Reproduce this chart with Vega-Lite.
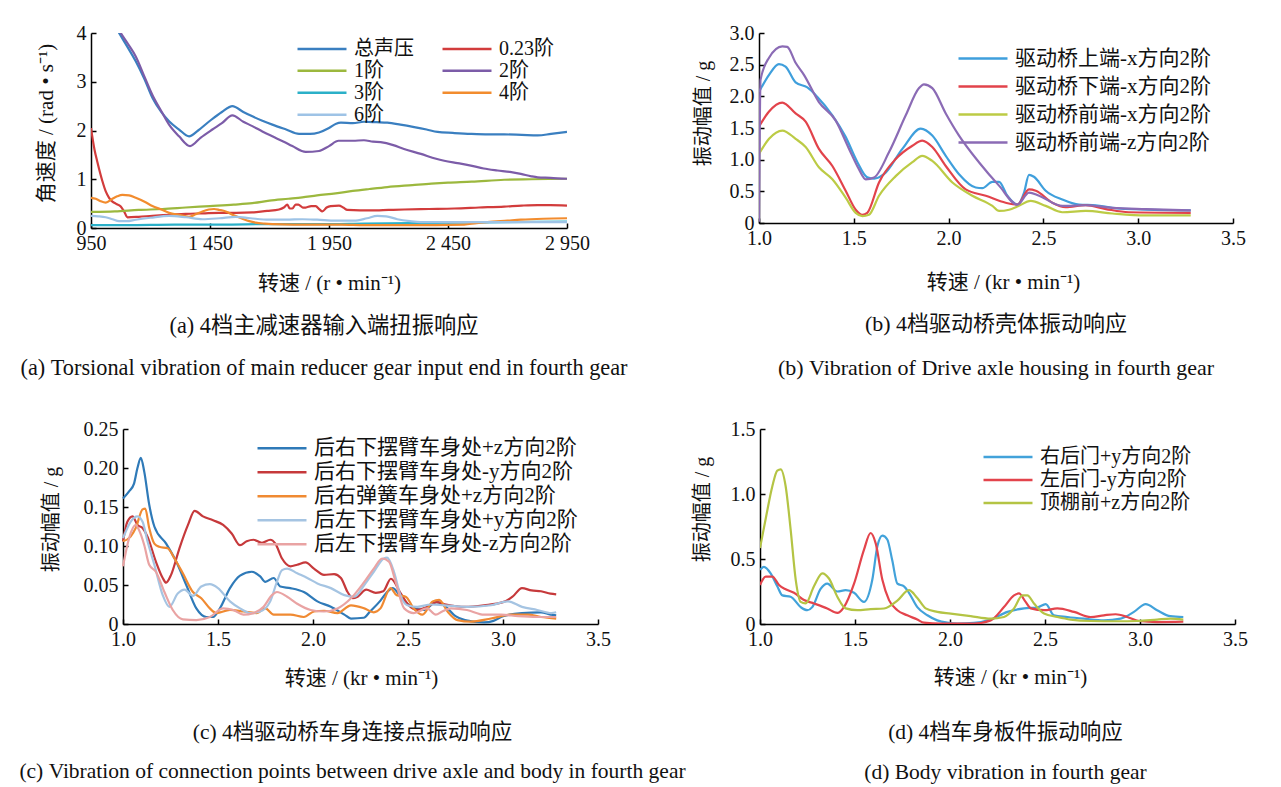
{
"$schema": "https://vega.github.io/schema/vega-lite/v6.json",
"background": "white",
"padding": {"left": 16, "top": 23, "right": 5, "bottom": 5},
"config": {
  "view": {"stroke": null},
  "font": "Liberation Serif, Noto Sans CJK SC",
  "axis": {"grid": false, "domainColor": "#000", "domainWidth": 1.5, "tickColor": "#000", "tickWidth": 1.5, "tickSize": -5, "labelFont": "Liberation Serif", "labelFontSize": 20, "labelColor": "#111", "labelPadding": 10, "titleFont": "Liberation Serif, Noto Sans CJK SC", "titleFontSize": 20, "titleFontWeight": "normal", "titleColor": "#111", "labelFlush": false, "labelOverlap": false, "titleBaseline": "middle", "titleAlign": "center"},
  "axisX": {"titleFontSize": 21},
  "legend": {"orient": "none", "labelFont": "Liberation Serif, Noto Sans CJK SC", "labelFontSize": 20, "labelColor": "#111", "symbolType": "stroke", "symbolSize": 2400, "symbolStrokeWidth": 2.5, "labelOffset": 6, "padding": 0, "rowPadding": 0, "columnPadding": 27, "labelLimit": 400},
  "title": {"orient": "bottom", "anchor": "middle", "frame": "group", "fontSize": 22, "fontWeight": "normal", "font": "Liberation Serif, Noto Sans CJK SC", "color": "#111", "baseline": "top"}
},
"datasets": {
"A": [
{"s":"总声压","x":1000,"y":4.6},{"s":"总声压","x":1068,"y":4.0},{"s":"总声压","x":1105,"y":3.7},{"s":"总声压","x":1138,"y":3.42},{"s":"总声压","x":1175,"y":3.05},{"s":"总声压","x":1208,"y":2.67},{"s":"总声压","x":1245,"y":2.38},{"s":"总声压","x":1278,"y":2.19},{"s":"总声压","x":1320,"y":2.02},{"s":"总声压","x":1362,"y":1.88},{"s":"总声压","x":1400,"y":2.0},{"s":"总声压","x":1450,"y":2.2},{"s":"总声压","x":1500,"y":2.38},{"s":"总声压","x":1544,"y":2.5},{"s":"总声压","x":1590,"y":2.38},{"s":"总声压","x":1628,"y":2.29},{"s":"总声压","x":1670,"y":2.2},{"s":"总声压","x":1712,"y":2.12},{"s":"总声压","x":1770,"y":2.02},{"s":"总声压","x":1824,"y":1.93},{"s":"总声压","x":1870,"y":1.93},{"s":"总声压","x":1908,"y":1.96},{"s":"总声压","x":1950,"y":2.05},{"s":"总声压","x":1980,"y":2.14},{"s":"总声压","x":2000,"y":2.16},{"s":"总声压","x":2050,"y":2.15},{"s":"总声压","x":2097,"y":2.18},{"s":"总声压","x":2150,"y":2.17},{"s":"总声压","x":2195,"y":2.16},{"s":"总声压","x":2250,"y":2.12},{"s":"总声压","x":2308,"y":2.07},{"s":"总声压","x":2360,"y":2.02},{"s":"总声压","x":2406,"y":1.97},{"s":"总声压","x":2470,"y":1.95},{"s":"总声压","x":2546,"y":1.93},{"s":"总声压","x":2620,"y":1.92},{"s":"总声压","x":2686,"y":1.92},{"s":"总声压","x":2760,"y":1.91},{"s":"总声压","x":2827,"y":1.9},{"s":"总声压","x":2883,"y":1.93},{"s":"总声压","x":2950,"y":1.97},
{"s":"0.23阶","x":950,"y":2.05},{"s":"0.23阶","x":965,"y":1.6},{"s":"0.23阶","x":977,"y":1.35},{"s":"0.23阶","x":998,"y":0.96},{"s":"0.23阶","x":1012,"y":0.75},{"s":"0.23阶","x":1026,"y":0.62},{"s":"0.23阶","x":1040,"y":0.54},{"s":"0.23阶","x":1054,"y":0.5},{"s":"0.23阶","x":1075,"y":0.44},{"s":"0.23阶","x":1090,"y":0.33},{"s":"0.23阶","x":1103,"y":0.22},{"s":"0.23阶","x":1150,"y":0.23},{"s":"0.23阶","x":1208,"y":0.25},{"s":"0.23阶","x":1280,"y":0.27},{"s":"0.23阶","x":1348,"y":0.29},{"s":"0.23阶","x":1420,"y":0.3},{"s":"0.23阶","x":1488,"y":0.31},{"s":"0.23阶","x":1560,"y":0.31},{"s":"0.23阶","x":1628,"y":0.32},{"s":"0.23阶","x":1690,"y":0.35},{"s":"0.23阶","x":1740,"y":0.38},{"s":"0.23阶","x":1760,"y":0.42},{"s":"0.23阶","x":1775,"y":0.48},{"s":"0.23阶","x":1785,"y":0.4},{"s":"0.23阶","x":1796,"y":0.4},{"s":"0.23阶","x":1810,"y":0.48},{"s":"0.23阶","x":1821,"y":0.48},{"s":"0.23阶","x":1840,"y":0.42},{"s":"0.23阶","x":1852,"y":0.42},{"s":"0.23阶","x":1875,"y":0.45},{"s":"0.23阶","x":1894,"y":0.45},{"s":"0.23阶","x":1910,"y":0.38},{"s":"0.23阶","x":1922,"y":0.34},{"s":"0.23阶","x":1940,"y":0.42},{"s":"0.23阶","x":1957,"y":0.45},{"s":"0.23阶","x":1992,"y":0.46},{"s":"0.23阶","x":2010,"y":0.42},{"s":"0.23阶","x":2027,"y":0.37},{"s":"0.23阶","x":2080,"y":0.36},{"s":"0.23阶","x":2125,"y":0.36},{"s":"0.23阶","x":2200,"y":0.37},{"s":"0.23阶","x":2265,"y":0.38},{"s":"0.23阶","x":2370,"y":0.39},{"s":"0.23阶","x":2476,"y":0.4},{"s":"0.23阶","x":2580,"y":0.42},{"s":"0.23阶","x":2686,"y":0.44},{"s":"0.23阶","x":2760,"y":0.46},{"s":"0.23阶","x":2827,"y":0.47},{"s":"0.23阶","x":2880,"y":0.47},{"s":"0.23阶","x":2950,"y":0.46},
{"s":"1阶","x":950,"y":0.33},{"s":"1阶","x":1050,"y":0.34},{"s":"1阶","x":1150,"y":0.37},{"s":"1阶","x":1250,"y":0.39},{"s":"1阶","x":1348,"y":0.42},{"s":"1阶","x":1450,"y":0.45},{"s":"1阶","x":1550,"y":0.48},{"s":"1阶","x":1628,"y":0.51},{"s":"1阶","x":1700,"y":0.56},{"s":"1阶","x":1780,"y":0.6},{"s":"1阶","x":1838,"y":0.63},{"s":"1阶","x":1900,"y":0.67},{"s":"1阶","x":1978,"y":0.71},{"s":"1阶","x":2050,"y":0.76},{"s":"1阶","x":2120,"y":0.8},{"s":"1阶","x":2195,"y":0.84},{"s":"1阶","x":2300,"y":0.88},{"s":"1阶","x":2380,"y":0.91},{"s":"1阶","x":2450,"y":0.93},{"s":"1阶","x":2550,"y":0.95},{"s":"1阶","x":2686,"y":0.99},{"s":"1阶","x":2800,"y":1.0},{"s":"1阶","x":2950,"y":1.01},
{"s":"2阶","x":1000,"y":4.7},{"s":"2阶","x":1075,"y":4.0},{"s":"2阶","x":1105,"y":3.78},{"s":"2阶","x":1138,"y":3.52},{"s":"2阶","x":1175,"y":3.1},{"s":"2阶","x":1208,"y":2.73},{"s":"2阶","x":1245,"y":2.4},{"s":"2阶","x":1278,"y":2.12},{"s":"2阶","x":1320,"y":1.88},{"s":"2阶","x":1366,"y":1.68},{"s":"2阶","x":1410,"y":1.85},{"s":"2阶","x":1460,"y":2.02},{"s":"2阶","x":1500,"y":2.15},{"s":"2阶","x":1544,"y":2.31},{"s":"2阶","x":1590,"y":2.18},{"s":"2阶","x":1628,"y":2.09},{"s":"2阶","x":1670,"y":1.98},{"s":"2阶","x":1712,"y":1.88},{"s":"2阶","x":1760,"y":1.77},{"s":"2阶","x":1796,"y":1.68},{"s":"2阶","x":1852,"y":1.56},{"s":"2阶","x":1908,"y":1.58},{"s":"2阶","x":1950,"y":1.68},{"s":"2阶","x":1990,"y":1.79},{"s":"2阶","x":2050,"y":1.79},{"s":"2阶","x":2097,"y":1.8},{"s":"2阶","x":2135,"y":1.77},{"s":"2阶","x":2167,"y":1.76},{"s":"2阶","x":2220,"y":1.7},{"s":"2阶","x":2265,"y":1.62},{"s":"2阶","x":2336,"y":1.52},{"s":"2阶","x":2400,"y":1.42},{"s":"2阶","x":2434,"y":1.38},{"s":"2阶","x":2490,"y":1.33},{"s":"2阶","x":2546,"y":1.28},{"s":"2阶","x":2600,"y":1.22},{"s":"2阶","x":2658,"y":1.18},{"s":"2阶","x":2710,"y":1.15},{"s":"2阶","x":2756,"y":1.11},{"s":"2阶","x":2800,"y":1.06},{"s":"2阶","x":2827,"y":1.04},{"s":"2阶","x":2880,"y":1.03},{"s":"2阶","x":2950,"y":1.01},
{"s":"3阶","x":950,"y":0.06},{"s":"3阶","x":1100,"y":0.06},{"s":"3阶","x":1300,"y":0.07},{"s":"3阶","x":1500,"y":0.07},{"s":"3阶","x":1700,"y":0.08},{"s":"3阶","x":1900,"y":0.08},{"s":"3阶","x":2100,"y":0.09},{"s":"3阶","x":2300,"y":0.1},{"s":"3阶","x":2500,"y":0.11},{"s":"3阶","x":2700,"y":0.12},{"s":"3阶","x":2950,"y":0.13},
{"s":"4阶","x":950,"y":0.62},{"s":"4阶","x":970,"y":0.6},{"s":"4阶","x":990,"y":0.55},{"s":"4阶","x":1012,"y":0.52},{"s":"4阶","x":1040,"y":0.6},{"s":"4阶","x":1060,"y":0.65},{"s":"4阶","x":1082,"y":0.68},{"s":"4阶","x":1110,"y":0.67},{"s":"4阶","x":1138,"y":0.62},{"s":"4阶","x":1175,"y":0.54},{"s":"4阶","x":1208,"y":0.45},{"s":"4阶","x":1245,"y":0.38},{"s":"4阶","x":1278,"y":0.31},{"s":"4阶","x":1320,"y":0.27},{"s":"4阶","x":1362,"y":0.23},{"s":"4阶","x":1390,"y":0.28},{"s":"4阶","x":1418,"y":0.34},{"s":"4阶","x":1445,"y":0.38},{"s":"4阶","x":1467,"y":0.39},{"s":"4阶","x":1490,"y":0.37},{"s":"4阶","x":1516,"y":0.34},{"s":"4阶","x":1550,"y":0.26},{"s":"4阶","x":1586,"y":0.19},{"s":"4阶","x":1615,"y":0.14},{"s":"4阶","x":1642,"y":0.11},{"s":"4阶","x":1680,"y":0.09},{"s":"4阶","x":1712,"y":0.08},{"s":"4阶","x":1800,"y":0.07},{"s":"4阶","x":1900,"y":0.07},{"s":"4阶","x":2000,"y":0.07},{"s":"4阶","x":2100,"y":0.06},{"s":"4阶","x":2200,"y":0.06},{"s":"4阶","x":2300,"y":0.06},{"s":"4阶","x":2400,"y":0.06},{"s":"4阶","x":2518,"y":0.07},{"s":"4阶","x":2570,"y":0.1},{"s":"4阶","x":2615,"y":0.12},{"s":"4阶","x":2700,"y":0.15},{"s":"4阶","x":2756,"y":0.17},{"s":"4阶","x":2850,"y":0.19},{"s":"4阶","x":2950,"y":0.2},
{"s":"6阶","x":950,"y":0.25},{"s":"6阶","x":980,"y":0.24},{"s":"6阶","x":1012,"y":0.22},{"s":"6阶","x":1040,"y":0.18},{"s":"6阶","x":1068,"y":0.14},{"s":"6阶","x":1100,"y":0.14},{"s":"6阶","x":1138,"y":0.17},{"s":"6阶","x":1200,"y":0.21},{"s":"6阶","x":1278,"y":0.25},{"s":"6阶","x":1350,"y":0.22},{"s":"6阶","x":1418,"y":0.18},{"s":"6阶","x":1490,"y":0.2},{"s":"6阶","x":1558,"y":0.23},{"s":"6阶","x":1620,"y":0.2},{"s":"6阶","x":1698,"y":0.17},{"s":"6阶","x":1770,"y":0.17},{"s":"6阶","x":1838,"y":0.18},{"s":"6阶","x":1900,"y":0.17},{"s":"6阶","x":1978,"y":0.15},{"s":"6阶","x":2055,"y":0.15},{"s":"6阶","x":2110,"y":0.2},{"s":"6阶","x":2153,"y":0.25},{"s":"6阶","x":2190,"y":0.24},{"s":"6阶","x":2237,"y":0.18},{"s":"6阶","x":2290,"y":0.14},{"s":"6阶","x":2336,"y":0.12},{"s":"6阶","x":2450,"y":0.12},{"s":"6阶","x":2615,"y":0.12},{"s":"6阶","x":2800,"y":0.12},{"s":"6阶","x":2950,"y":0.12}
],
"B": [
{"s":"驱动桥上端-x方向2阶","x":1.0,"y":2.07},{"s":"驱动桥上端-x方向2阶","x":1.053,"y":2.34},{"s":"驱动桥上端-x方向2阶","x":1.105,"y":2.51},{"s":"驱动桥上端-x方向2阶","x":1.14,"y":2.47},{"s":"驱动桥上端-x方向2阶","x":1.193,"y":2.22},{"s":"驱动桥上端-x方向2阶","x":1.255,"y":2.14},{"s":"驱动桥上端-x方向2阶","x":1.308,"y":1.99},{"s":"驱动桥上端-x方向2阶","x":1.387,"y":1.7},{"s":"驱动桥上端-x方向2阶","x":1.457,"y":1.36},{"s":"驱动桥上端-x方向2阶","x":1.519,"y":0.96},{"s":"驱动桥上端-x方向2阶","x":1.571,"y":0.72},{"s":"驱动桥上端-x方向2阶","x":1.607,"y":0.7},{"s":"驱动桥上端-x方向2阶","x":1.659,"y":0.77},{"s":"驱动桥上端-x方向2阶","x":1.756,"y":1.17},{"s":"驱动桥上端-x方向2阶","x":1.853,"y":1.49},{"s":"驱动桥上端-x方向2阶","x":1.914,"y":1.38},{"s":"驱动桥上端-x方向2阶","x":1.985,"y":1.06},{"s":"驱动桥上端-x方向2阶","x":2.055,"y":0.77},{"s":"驱动桥上端-x方向2阶","x":2.143,"y":0.56},{"s":"驱动桥上端-x方向2阶","x":2.178,"y":0.55},{"s":"驱动桥上端-x方向2阶","x":2.231,"y":0.65},{"s":"驱动桥上端-x方向2阶","x":2.266,"y":0.65},{"s":"驱动桥上端-x方向2阶","x":2.31,"y":0.43},{"s":"驱动桥上端-x方向2阶","x":2.363,"y":0.29},{"s":"驱动桥上端-x方向2阶","x":2.398,"y":0.48},{"s":"驱动桥上端-x方向2阶","x":2.424,"y":0.76},{"s":"驱动桥上端-x方向2阶","x":2.45,"y":0.73},{"s":"驱动桥上端-x方向2阶","x":2.512,"y":0.51},{"s":"驱动桥上端-x方向2阶","x":2.6,"y":0.37},{"s":"驱动桥上端-x方向2阶","x":2.688,"y":0.29},{"s":"驱动桥上端-x方向2阶","x":2.776,"y":0.28},{"s":"驱动桥上端-x方向2阶","x":2.864,"y":0.24},{"s":"驱动桥上端-x方向2阶","x":3.04,"y":0.21},{"s":"驱动桥上端-x方向2阶","x":3.215,"y":0.2},{"s":"驱动桥上端-x方向2阶","x":3.277,"y":0.2},
{"s":"驱动桥下端-x方向2阶","x":1.0,"y":1.52},{"s":"驱动桥下端-x方向2阶","x":1.053,"y":1.76},{"s":"驱动桥下端-x方向2阶","x":1.123,"y":1.9},{"s":"驱动桥下端-x方向2阶","x":1.193,"y":1.73},{"s":"驱动桥下端-x方向2阶","x":1.246,"y":1.6},{"s":"驱动桥下端-x方向2阶","x":1.316,"y":1.17},{"s":"驱动桥下端-x方向2阶","x":1.387,"y":0.9},{"s":"驱动桥下端-x方向2阶","x":1.457,"y":0.51},{"s":"驱动桥下端-x方向2阶","x":1.51,"y":0.21},{"s":"驱动桥下端-x方向2阶","x":1.545,"y":0.13},{"s":"驱动桥下端-x方向2阶","x":1.571,"y":0.16},{"s":"驱动桥下端-x方向2阶","x":1.633,"y":0.64},{"s":"驱动桥下端-x方向2阶","x":1.721,"y":1.01},{"s":"驱动桥下端-x方向2阶","x":1.809,"y":1.22},{"s":"驱动桥下端-x方向2阶","x":1.861,"y":1.3},{"s":"驱动桥下端-x方向2阶","x":1.914,"y":1.2},{"s":"驱动桥下端-x方向2阶","x":1.985,"y":0.9},{"s":"驱动桥下端-x方向2阶","x":2.09,"y":0.53},{"s":"驱动桥下端-x方向2阶","x":2.196,"y":0.43},{"s":"驱动桥下端-x方向2阶","x":2.301,"y":0.32},{"s":"驱动桥下端-x方向2阶","x":2.363,"y":0.29},{"s":"驱动桥下端-x方向2阶","x":2.424,"y":0.53},{"s":"驱动桥下端-x方向2阶","x":2.46,"y":0.51},{"s":"驱动桥下端-x方向2阶","x":2.547,"y":0.32},{"s":"驱动桥下端-x方向2阶","x":2.617,"y":0.25},{"s":"驱动桥下端-x方向2阶","x":2.723,"y":0.28},{"s":"驱动桥下端-x方向2阶","x":2.83,"y":0.22},{"s":"驱动桥下端-x方向2阶","x":2.95,"y":0.17},{"s":"驱动桥下端-x方向2阶","x":3.277,"y":0.16},
{"s":"驱动桥前端-x方向2阶","x":1.0,"y":1.09},{"s":"驱动桥前端-x方向2阶","x":1.053,"y":1.33},{"s":"驱动桥前端-x方向2阶","x":1.123,"y":1.46},{"s":"驱动桥前端-x方向2阶","x":1.193,"y":1.33},{"s":"驱动桥前端-x方向2阶","x":1.246,"y":1.2},{"s":"驱动桥前端-x方向2阶","x":1.316,"y":0.88},{"s":"驱动桥前端-x方向2阶","x":1.387,"y":0.69},{"s":"驱动桥前端-x方向2阶","x":1.457,"y":0.4},{"s":"驱动桥前端-x方向2阶","x":1.51,"y":0.16},{"s":"驱动桥前端-x方向2阶","x":1.545,"y":0.11},{"s":"驱动桥前端-x方向2阶","x":1.58,"y":0.13},{"s":"驱动桥前端-x方向2阶","x":1.633,"y":0.43},{"s":"驱动桥前端-x方向2阶","x":1.721,"y":0.74},{"s":"驱动桥前端-x方向2阶","x":1.809,"y":0.96},{"s":"驱动桥前端-x方向2阶","x":1.861,"y":1.06},{"s":"驱动桥前端-x方向2阶","x":1.914,"y":0.98},{"s":"驱动桥前端-x方向2阶","x":2.02,"y":0.64},{"s":"驱动桥前端-x方向2阶","x":2.125,"y":0.43},{"s":"驱动桥前端-x方向2阶","x":2.231,"y":0.27},{"s":"驱动桥前端-x方向2阶","x":2.266,"y":0.19},{"s":"驱动桥前端-x方向2阶","x":2.319,"y":0.21},{"s":"驱动桥前端-x方向2阶","x":2.363,"y":0.26},{"s":"驱动桥前端-x方向2阶","x":2.433,"y":0.35},{"s":"驱动桥前端-x方向2阶","x":2.512,"y":0.27},{"s":"驱动桥前端-x方向2阶","x":2.6,"y":0.17},{"s":"驱动桥前端-x方向2阶","x":2.723,"y":0.19},{"s":"驱动桥前端-x方向2阶","x":2.864,"y":0.15},{"s":"驱动桥前端-x方向2阶","x":3.04,"y":0.12},{"s":"驱动桥前端-x方向2阶","x":3.277,"y":0.12},
{"s":"驱动桥前端-z方向2阶","x":1.0,"y":0.02},{"s":"驱动桥前端-z方向2阶","x":1.008,"y":2.26},{"s":"驱动桥前端-z方向2阶","x":1.053,"y":2.61},{"s":"驱动桥前端-z方向2阶","x":1.123,"y":2.79},{"s":"驱动桥前端-z方向2阶","x":1.149,"y":2.78},{"s":"驱动桥前端-z方向2阶","x":1.193,"y":2.53},{"s":"驱动桥前端-z方向2阶","x":1.237,"y":2.34},{"s":"驱动桥前端-z方向2阶","x":1.316,"y":1.91},{"s":"驱动桥前端-z方向2阶","x":1.404,"y":1.62},{"s":"驱动桥前端-z方向2阶","x":1.475,"y":1.17},{"s":"驱动桥前端-z方向2阶","x":1.527,"y":0.85},{"s":"驱动桥前端-z方向2阶","x":1.563,"y":0.69},{"s":"驱动桥前端-z方向2阶","x":1.607,"y":0.72},{"s":"驱动桥前端-z方向2阶","x":1.686,"y":1.12},{"s":"驱动桥前端-z方向2阶","x":1.774,"y":1.7},{"s":"驱动桥前端-z方向2阶","x":1.844,"y":2.13},{"s":"驱动桥前端-z方向2阶","x":1.87,"y":2.19},{"s":"驱动桥前端-z方向2阶","x":1.914,"y":2.13},{"s":"驱动桥前端-z方向2阶","x":1.985,"y":1.73},{"s":"驱动桥前端-z方向2阶","x":2.055,"y":1.38},{"s":"驱动桥前端-z方向2阶","x":2.16,"y":0.96},{"s":"驱动桥前端-z方向2阶","x":2.266,"y":0.59},{"s":"驱动桥前端-z方向2阶","x":2.363,"y":0.29},{"s":"驱动桥前端-z方向2阶","x":2.424,"y":0.48},{"s":"驱动桥前端-z方向2阶","x":2.477,"y":0.43},{"s":"驱动桥前端-z方向2阶","x":2.6,"y":0.27},{"s":"驱动桥前端-z方向2阶","x":2.723,"y":0.28},{"s":"驱动桥前端-z方向2阶","x":2.864,"y":0.24},{"s":"驱动桥前端-z方向2阶","x":3.04,"y":0.22},{"s":"驱动桥前端-z方向2阶","x":3.277,"y":0.2}
],
"C": [
{"s":"后右下摆臂车身处+z方向2阶","x":1.0,"y":0.161},{"s":"后右下摆臂车身处+z方向2阶","x":1.032,"y":0.17},{"s":"后右下摆臂车身处+z方向2阶","x":1.058,"y":0.18},{"s":"后右下摆臂车身处+z方向2阶","x":1.076,"y":0.2},{"s":"后右下摆臂车身处+z方向2阶","x":1.094,"y":0.213},{"s":"后右下摆臂车身处+z方向2阶","x":1.112,"y":0.195},{"s":"后右下摆臂车身处+z方向2阶","x":1.138,"y":0.153},{"s":"后右下摆臂车身处+z方向2阶","x":1.165,"y":0.125},{"s":"后右下摆臂车身处+z方向2阶","x":1.227,"y":0.103},{"s":"后右下摆臂车身处+z方向2阶","x":1.28,"y":0.08},{"s":"后右下摆臂车身处+z方向2阶","x":1.333,"y":0.05},{"s":"后右下摆臂车身处+z方向2阶","x":1.386,"y":0.02},{"s":"后右下摆臂车身处+z方向2阶","x":1.439,"y":0.009},{"s":"后右下摆臂车身处+z方向2阶","x":1.474,"y":0.009},{"s":"后右下摆臂车身处+z方向2阶","x":1.51,"y":0.02},{"s":"后右下摆臂车身处+z方向2阶","x":1.563,"y":0.046},{"s":"后右下摆臂车身处+z方向2阶","x":1.616,"y":0.062},{"s":"后右下摆臂车身处+z方向2阶","x":1.678,"y":0.067},{"s":"后右下摆臂车身处+z方向2阶","x":1.722,"y":0.061},{"s":"后右下摆臂车身处+z方向2阶","x":1.749,"y":0.054},{"s":"后右下摆臂车身处+z方向2阶","x":1.793,"y":0.059},{"s":"后右下摆臂车身处+z方向2阶","x":1.828,"y":0.048},{"s":"后右下摆臂车身处+z方向2阶","x":1.881,"y":0.046},{"s":"后右下摆臂车身处+z方向2阶","x":1.952,"y":0.041},{"s":"后右下摆臂车身处+z方向2阶","x":2.023,"y":0.029},{"s":"后右下摆臂车身处+z方向2阶","x":2.094,"y":0.022},{"s":"后右下摆臂车身处+z方向2阶","x":2.165,"y":0.012},{"s":"后右下摆臂车身处+z方向2阶","x":2.2,"y":0.007},{"s":"后右下摆臂车身处+z方向2阶","x":2.267,"y":0.008},{"s":"后右下摆臂车身处+z方向2阶","x":2.3,"y":0.016},{"s":"后右下摆臂车身处+z方向2阶","x":2.355,"y":0.03},{"s":"后右下摆臂车身处+z方向2阶","x":2.39,"y":0.041},{"s":"后右下摆臂车身处+z方向2阶","x":2.42,"y":0.046},{"s":"后右下摆臂车身处+z方向2阶","x":2.47,"y":0.032},{"s":"后右下摆臂车身处+z方向2阶","x":2.52,"y":0.022},{"s":"后右下摆臂车身处+z方向2阶","x":2.58,"y":0.018},{"s":"后右下摆臂车身处+z方向2阶","x":2.65,"y":0.028},{"s":"后右下摆臂车身处+z方向2阶","x":2.7,"y":0.022},{"s":"后右下摆臂车身处+z方向2阶","x":2.75,"y":0.01},{"s":"后右下摆臂车身处+z方向2阶","x":2.8,"y":0.005},{"s":"后右下摆臂车身处+z方向2阶","x":2.9,"y":0.002},{"s":"后右下摆臂车身处+z方向2阶","x":2.95,"y":0.004},{"s":"后右下摆臂车身处+z方向2阶","x":3.0,"y":0.01},{"s":"后右下摆臂车身处+z方向2阶","x":3.1,"y":0.014},{"s":"后右下摆臂车身处+z方向2阶","x":3.2,"y":0.015},{"s":"后右下摆臂车身处+z方向2阶","x":3.25,"y":0.012},{"s":"后右下摆臂车身处+z方向2阶","x":3.28,"y":0.011},
{"s":"后右下摆臂车身处-y方向2阶","x":1.0,"y":0.106},{"s":"后右下摆臂车身处-y方向2阶","x":1.023,"y":0.131},{"s":"后右下摆臂车身处-y方向2阶","x":1.05,"y":0.138},{"s":"后右下摆臂车身处-y方向2阶","x":1.076,"y":0.127},{"s":"后右下摆臂车身处-y方向2阶","x":1.103,"y":0.123},{"s":"后右下摆臂车身处-y方向2阶","x":1.129,"y":0.112},{"s":"后右下摆臂车身处-y方向2阶","x":1.173,"y":0.08},{"s":"后右下摆臂车身处-y方向2阶","x":1.209,"y":0.059},{"s":"后右下摆臂车身处-y方向2阶","x":1.227,"y":0.053},{"s":"后右下摆臂车身处-y方向2阶","x":1.253,"y":0.063},{"s":"后右下摆臂车身处-y方向2阶","x":1.297,"y":0.097},{"s":"后右下摆臂车身处-y方向2阶","x":1.342,"y":0.127},{"s":"后右下摆臂车身处-y方向2阶","x":1.377,"y":0.145},{"s":"后右下摆臂车身处-y方向2阶","x":1.421,"y":0.138},{"s":"后右下摆臂车身处-y方向2阶","x":1.474,"y":0.133},{"s":"后右下摆臂车身处-y方向2阶","x":1.527,"y":0.127},{"s":"后右下摆臂车身处-y方向2阶","x":1.572,"y":0.116},{"s":"后右下摆臂车身处-y方向2阶","x":1.616,"y":0.101},{"s":"后右下摆臂车身处-y方向2阶","x":1.651,"y":0.106},{"s":"后右下摆臂车身处-y方向2阶","x":1.687,"y":0.108},{"s":"后右下摆臂车身处-y方向2阶","x":1.731,"y":0.104},{"s":"后右下摆臂车身处-y方向2阶","x":1.775,"y":0.108},{"s":"后右下摆臂车身处-y方向2阶","x":1.802,"y":0.103},{"s":"后右下摆臂车身处-y方向2阶","x":1.837,"y":0.084},{"s":"后右下摆臂车身处-y方向2阶","x":1.881,"y":0.074},{"s":"后右下摆臂车身处-y方向2阶","x":1.917,"y":0.076},{"s":"后右下摆臂车身处-y方向2阶","x":1.961,"y":0.079},{"s":"后右下摆臂车身处-y方向2阶","x":2.005,"y":0.071},{"s":"后右下摆臂车身处-y方向2阶","x":2.058,"y":0.063},{"s":"后右下摆臂车身处-y方向2阶","x":2.111,"y":0.064},{"s":"后右下摆臂车身处-y方向2阶","x":2.147,"y":0.059},{"s":"后右下摆臂车身处-y方向2阶","x":2.182,"y":0.041},{"s":"后右下摆臂车身处-y方向2阶","x":2.209,"y":0.033},{"s":"后右下摆臂车身处-y方向2阶","x":2.235,"y":0.035},{"s":"后右下摆臂车身处-y方向2阶","x":2.28,"y":0.044},{"s":"后右下摆臂车身处-y方向2阶","x":2.33,"y":0.04},{"s":"后右下摆臂车身处-y方向2阶","x":2.37,"y":0.042},{"s":"后右下摆臂车身处-y方向2阶","x":2.41,"y":0.058},{"s":"后右下摆臂车身处-y方向2阶","x":2.46,"y":0.04},{"s":"后右下摆臂车身处-y方向2阶","x":2.5,"y":0.025},{"s":"后右下摆臂车身处-y方向2阶","x":2.55,"y":0.018},{"s":"后右下摆臂车身处-y方向2阶","x":2.6,"y":0.022},{"s":"后右下摆臂车身处-y方向2阶","x":2.65,"y":0.028},{"s":"后右下摆臂车身处-y方向2阶","x":2.7,"y":0.025},{"s":"后右下摆臂车身处-y方向2阶","x":2.8,"y":0.022},{"s":"后右下摆臂车身处-y方向2阶","x":2.9,"y":0.024},{"s":"后右下摆臂车身处-y方向2阶","x":3.0,"y":0.028},{"s":"后右下摆臂车身处-y方向2阶","x":3.05,"y":0.035},{"s":"后右下摆臂车身处-y方向2阶","x":3.1,"y":0.046},{"s":"后右下摆臂车身处-y方向2阶","x":3.15,"y":0.043},{"s":"后右下摆臂车身处-y方向2阶","x":3.2,"y":0.042},{"s":"后右下摆臂车身处-y方向2阶","x":3.25,"y":0.039},{"s":"后右下摆臂车身处-y方向2阶","x":3.28,"y":0.038},
{"s":"后右弹簧车身处+z方向2阶","x":1.0,"y":0.106},{"s":"后右弹簧车身处+z方向2阶","x":1.04,"y":0.112},{"s":"后右弹簧车身处+z方向2阶","x":1.067,"y":0.123},{"s":"后右弹簧车身处+z方向2阶","x":1.103,"y":0.147},{"s":"后右弹簧车身处+z方向2阶","x":1.117,"y":0.148},{"s":"后右弹簧车身处+z方向2阶","x":1.138,"y":0.123},{"s":"后右弹簧车身处+z方向2阶","x":1.165,"y":0.103},{"s":"后右弹簧车身处+z方向2阶","x":1.191,"y":0.099},{"s":"后右弹簧车身处+z方向2阶","x":1.235,"y":0.097},{"s":"后右弹簧车身处+z方向2阶","x":1.271,"y":0.084},{"s":"后右弹簧车身处+z方向2阶","x":1.315,"y":0.065},{"s":"后右弹簧车身处+z方向2阶","x":1.368,"y":0.041},{"s":"后右弹簧车身处+z方向2阶","x":1.412,"y":0.033},{"s":"后右弹簧车身处+z方向2阶","x":1.457,"y":0.02},{"s":"后右弹簧车身处+z方向2阶","x":1.492,"y":0.014},{"s":"后右弹簧车身处+z方向2阶","x":1.563,"y":0.018},{"s":"后右弹簧车身处+z方向2阶","x":1.634,"y":0.016},{"s":"后右弹簧车身处+z方向2阶","x":1.704,"y":0.014},{"s":"后右弹簧车身处+z方向2阶","x":1.749,"y":0.02},{"s":"后右弹簧车身处+z方向2阶","x":1.793,"y":0.012},{"s":"后右弹簧车身处+z方向2阶","x":1.881,"y":0.012},{"s":"后右弹簧车身处+z方向2阶","x":1.952,"y":0.009},{"s":"后右弹簧车身处+z方向2阶","x":2.005,"y":0.016},{"s":"后右弹簧车身处+z方向2阶","x":2.058,"y":0.017},{"s":"后右弹簧车身处+z方向2阶","x":2.129,"y":0.014},{"s":"后右弹簧车身处+z方向2阶","x":2.2,"y":0.024},{"s":"后右弹簧车身处+z方向2阶","x":2.27,"y":0.02},{"s":"后右弹簧车身处+z方向2阶","x":2.32,"y":0.015},{"s":"后右弹簧车身处+z方向2阶","x":2.355,"y":0.02},{"s":"后右弹簧车身处+z方向2阶","x":2.408,"y":0.046},{"s":"后右弹簧车身处+z方向2阶","x":2.44,"y":0.037},{"s":"后右弹簧车身处+z方向2阶","x":2.488,"y":0.035},{"s":"后右弹簧车身处+z方向2阶","x":2.53,"y":0.02},{"s":"后右弹簧车身处+z方向2阶","x":2.576,"y":0.012},{"s":"后右弹簧车身处+z方向2阶","x":2.63,"y":0.029},{"s":"后右弹簧车身处+z方向2阶","x":2.664,"y":0.031},{"s":"后右弹簧车身处+z方向2阶","x":2.708,"y":0.016},{"s":"后右弹簧车身处+z方向2阶","x":2.76,"y":0.005},{"s":"后右弹簧车身处+z方向2阶","x":2.83,"y":0.003},{"s":"后右弹簧车身处+z方向2阶","x":2.937,"y":0.007},{"s":"后右弹簧车身处+z方向2阶","x":3.043,"y":0.012},{"s":"后右弹簧车身处+z方向2阶","x":3.13,"y":0.012},{"s":"后右弹簧车身处+z方向2阶","x":3.2,"y":0.009},{"s":"后右弹簧车身处+z方向2阶","x":3.28,"y":0.007},
{"s":"后左下摆臂车身处+y方向2阶","x":1.0,"y":0.11},{"s":"后左下摆臂车身处+y方向2阶","x":1.04,"y":0.131},{"s":"后左下摆臂车身处+y方向2阶","x":1.076,"y":0.138},{"s":"后左下摆臂车身处+y方向2阶","x":1.103,"y":0.131},{"s":"后左下摆臂车身处+y方向2阶","x":1.129,"y":0.106},{"s":"后左下摆臂车身处+y方向2阶","x":1.165,"y":0.076},{"s":"后左下摆臂车身处+y方向2阶","x":1.209,"y":0.037},{"s":"后左下摆臂车身处+y方向2阶","x":1.244,"y":0.022},{"s":"后左下摆臂车身处+y方向2阶","x":1.288,"y":0.039},{"s":"后左下摆臂车身处+y方向2阶","x":1.324,"y":0.044},{"s":"后左下摆臂车身处+y方向2阶","x":1.368,"y":0.036},{"s":"后左下摆臂车身处+y方向2阶","x":1.412,"y":0.048},{"s":"后左下摆臂车身处+y方向2阶","x":1.457,"y":0.051},{"s":"后左下摆臂车身处+y方向2阶","x":1.5,"y":0.046},{"s":"后左下摆臂车身处+y方向2阶","x":1.563,"y":0.029},{"s":"后左下摆臂车身处+y方向2阶","x":1.616,"y":0.02},{"s":"后左下摆臂车身处+y方向2阶","x":1.669,"y":0.014},{"s":"后左下摆臂车身处+y方向2阶","x":1.722,"y":0.016},{"s":"后左下摆臂车身处+y方向2阶","x":1.775,"y":0.029},{"s":"后左下摆臂车身处+y方向2阶","x":1.81,"y":0.054},{"s":"后左下摆臂车身处+y方向2阶","x":1.837,"y":0.069},{"s":"后左下摆臂车身处+y方向2阶","x":1.864,"y":0.071},{"s":"后左下摆臂车身处+y方向2阶","x":1.917,"y":0.065},{"s":"后左下摆臂车身处+y方向2阶","x":1.97,"y":0.059},{"s":"后左下摆臂车身处+y方向2阶","x":2.023,"y":0.052},{"s":"后左下摆臂车身处+y方向2阶","x":2.094,"y":0.046},{"s":"后左下摆臂车身处+y方向2阶","x":2.165,"y":0.037},{"s":"后左下摆臂车身处+y方向2阶","x":2.218,"y":0.035},{"s":"后左下摆臂车身处+y方向2阶","x":2.27,"y":0.05},{"s":"后左下摆臂车身处+y方向2阶","x":2.32,"y":0.067},{"s":"后左下摆臂车身处+y方向2阶","x":2.373,"y":0.084},{"s":"后左下摆臂车身处+y方向2阶","x":2.39,"y":0.085},{"s":"后左下摆臂车身处+y方向2阶","x":2.426,"y":0.067},{"s":"后左下摆臂车身处+y方向2阶","x":2.46,"y":0.037},{"s":"后左下摆臂车身处+y方向2阶","x":2.496,"y":0.024},{"s":"后左下摆臂车身处+y方向2阶","x":2.55,"y":0.022},{"s":"后左下摆臂车身处+y方向2阶","x":2.62,"y":0.025},{"s":"后左下摆臂车身处+y方向2阶","x":2.69,"y":0.024},{"s":"后左下摆臂车身处+y方向2阶","x":2.81,"y":0.022},{"s":"后左下摆臂车身处+y方向2阶","x":2.937,"y":0.024},{"s":"后左下摆臂车身处+y方向2阶","x":3.025,"y":0.029},{"s":"后左下摆臂车身处+y方向2阶","x":3.1,"y":0.022},{"s":"后左下摆臂车身处+y方向2阶","x":3.18,"y":0.018},{"s":"后左下摆臂车身处+y方向2阶","x":3.255,"y":0.014},{"s":"后左下摆臂车身处+y方向2阶","x":3.28,"y":0.015},
{"s":"后左下摆臂车身处-z方向2阶","x":1.0,"y":0.074},{"s":"后左下摆臂车身处-z方向2阶","x":1.032,"y":0.11},{"s":"后左下摆臂车身处-z方向2阶","x":1.067,"y":0.127},{"s":"后左下摆臂车身处-z方向2阶","x":1.085,"y":0.12},{"s":"后左下摆臂车身处-z方向2阶","x":1.112,"y":0.101},{"s":"后左下摆臂车身处-z方向2阶","x":1.138,"y":0.076},{"s":"后左下摆臂车身处-z方向2阶","x":1.173,"y":0.067},{"s":"后左下摆臂车身处-z方向2阶","x":1.218,"y":0.041},{"s":"后左下摆臂车身处-z方向2阶","x":1.262,"y":0.018},{"s":"后左下摆臂车身处-z方向2阶","x":1.315,"y":0.006},{"s":"后左下摆臂车身处-z方向2阶","x":1.386,"y":0.005},{"s":"后左下摆臂车身处-z方向2阶","x":1.457,"y":0.009},{"s":"后左下摆臂车身处-z方向2阶","x":1.527,"y":0.02},{"s":"后左下摆臂车身处-z方向2阶","x":1.58,"y":0.018},{"s":"后左下摆臂车身处-z方向2阶","x":1.634,"y":0.012},{"s":"后左下摆臂车身处-z方向2阶","x":1.687,"y":0.014},{"s":"后左下摆臂车身处-z方向2阶","x":1.74,"y":0.022},{"s":"后左下摆臂车身处-z方向2阶","x":1.784,"y":0.037},{"s":"后左下摆臂车身处-z方向2阶","x":1.81,"y":0.041},{"s":"后左下摆臂车身处-z方向2阶","x":1.864,"y":0.035},{"s":"后左下摆臂车身处-z方向2阶","x":1.917,"y":0.026},{"s":"后左下摆臂车身处-z方向2阶","x":1.988,"y":0.018},{"s":"后左下摆臂车身处-z方向2阶","x":2.058,"y":0.016},{"s":"后左下摆臂车身处-z方向2阶","x":2.129,"y":0.02},{"s":"后左下摆臂车身处-z方向2阶","x":2.2,"y":0.033},{"s":"后左下摆臂车身处-z方向2阶","x":2.27,"y":0.054},{"s":"后左下摆臂车身处-z方向2阶","x":2.32,"y":0.071},{"s":"后左下摆臂车身处-z方向2阶","x":2.364,"y":0.084},{"s":"后左下摆臂车身处-z方向2阶","x":2.4,"y":0.08},{"s":"后左下摆臂车身处-z方向2阶","x":2.435,"y":0.054},{"s":"后左下摆臂车身处-z方向2阶","x":2.48,"y":0.02},{"s":"后左下摆臂车身处-z方向2阶","x":2.53,"y":0.014},{"s":"后左下摆臂车身处-z方向2阶","x":2.6,"y":0.02},{"s":"后左下摆臂车身处-z方向2阶","x":2.646,"y":0.012},{"s":"后左下摆臂车身处-z方向2阶","x":2.68,"y":0.016},{"s":"后左下摆臂车身处-z方向2阶","x":2.726,"y":0.02},{"s":"后左下摆臂车身处-z方向2阶","x":2.81,"y":0.018},{"s":"后左下摆臂车身处-z方向2阶","x":2.9,"y":0.012},{"s":"后左下摆臂车身处-z方向2阶","x":2.99,"y":0.012},{"s":"后左下摆臂车身处-z方向2阶","x":3.08,"y":0.01},{"s":"后左下摆臂车身处-z方向2阶","x":3.18,"y":0.009},{"s":"后左下摆臂车身处-z方向2阶","x":3.28,"y":0.009}
],
"D": [
{"s":"右后门+y方向2阶","x":1.0,"y":0.417},{"s":"右后门+y方向2阶","x":1.021,"y":0.44},{"s":"右后门+y方向2阶","x":1.056,"y":0.39},{"s":"右后门+y方向2阶","x":1.091,"y":0.29},{"s":"右后门+y方向2阶","x":1.118,"y":0.22},{"s":"右后门+y方向2阶","x":1.161,"y":0.21},{"s":"右后门+y方向2阶","x":1.214,"y":0.13},{"s":"右后门+y方向2阶","x":1.249,"y":0.106},{"s":"右后门+y方向2阶","x":1.275,"y":0.13},{"s":"右后门+y方向2阶","x":1.319,"y":0.27},{"s":"右后门+y方向2阶","x":1.354,"y":0.31},{"s":"右后门+y方向2阶","x":1.407,"y":0.25},{"s":"右后门+y方向2阶","x":1.451,"y":0.26},{"s":"右后门+y方向2阶","x":1.495,"y":0.24},{"s":"右后门+y方向2阶","x":1.547,"y":0.17},{"s":"右后门+y方向2阶","x":1.591,"y":0.34},{"s":"右后门+y方向2阶","x":1.618,"y":0.6},{"s":"右后门+y方向2阶","x":1.644,"y":0.68},{"s":"右后门+y方向2阶","x":1.67,"y":0.65},{"s":"右后门+y方向2阶","x":1.696,"y":0.49},{"s":"右后门+y方向2阶","x":1.723,"y":0.31},{"s":"右后门+y方向2阶","x":1.758,"y":0.29},{"s":"右后门+y方向2阶","x":1.784,"y":0.24},{"s":"右后门+y方向2阶","x":1.828,"y":0.13},{"s":"右后门+y方向2阶","x":1.881,"y":0.067},{"s":"右后门+y方向2阶","x":1.933,"y":0.028},{"s":"右后门+y方向2阶","x":1.986,"y":0.01},{"s":"右后门+y方向2阶","x":2.039,"y":0.003},{"s":"右后门+y方向2阶","x":2.126,"y":0.008},{"s":"右后门+y方向2阶","x":2.214,"y":0.034},{"s":"右后门+y方向2阶","x":2.302,"y":0.093},{"s":"右后门+y方向2阶","x":2.39,"y":0.12},{"s":"右后门+y方向2阶","x":2.46,"y":0.127},{"s":"右后门+y方向2阶","x":2.504,"y":0.153},{"s":"右后门+y方向2阶","x":2.547,"y":0.067},{"s":"右后门+y方向2阶","x":2.618,"y":0.054},{"s":"右后门+y方向2阶","x":2.705,"y":0.041},{"s":"右后门+y方向2阶","x":2.81,"y":0.028},{"s":"右后门+y方向2阶","x":2.898,"y":0.041},{"s":"右后门+y方向2阶","x":2.968,"y":0.093},{"s":"右后门+y方向2阶","x":3.03,"y":0.153},{"s":"右后门+y方向2阶","x":3.09,"y":0.106},{"s":"右后门+y方向2阶","x":3.16,"y":0.06},{"s":"右后门+y方向2阶","x":3.228,"y":0.054},
{"s":"左后门-y方向2阶","x":1.0,"y":0.3},{"s":"左后门-y方向2阶","x":1.03,"y":0.365},{"s":"左后门-y方向2阶","x":1.065,"y":0.365},{"s":"左后门-y方向2阶","x":1.1,"y":0.3},{"s":"左后门-y方向2阶","x":1.135,"y":0.267},{"s":"左后门-y方向2阶","x":1.179,"y":0.24},{"s":"左后门-y方向2阶","x":1.232,"y":0.184},{"s":"左后门-y方向2阶","x":1.284,"y":0.158},{"s":"左后门-y方向2阶","x":1.354,"y":0.12},{"s":"左后门-y方向2阶","x":1.407,"y":0.085},{"s":"左后门-y方向2阶","x":1.442,"y":0.13},{"s":"左后门-y方向2阶","x":1.495,"y":0.31},{"s":"左后门-y方向2阶","x":1.547,"y":0.57},{"s":"左后门-y方向2阶","x":1.582,"y":0.7},{"s":"左后门-y方向2阶","x":1.609,"y":0.62},{"s":"左后门-y方向2阶","x":1.644,"y":0.34},{"s":"左后门-y方向2阶","x":1.679,"y":0.184},{"s":"左后门-y方向2阶","x":1.723,"y":0.106},{"s":"左后门-y方向2阶","x":1.775,"y":0.067},{"s":"左后门-y方向2阶","x":1.828,"y":0.034},{"s":"左后门-y方向2阶","x":1.863,"y":0.01},{"s":"左后门-y方向2阶","x":1.95,"y":0.003},{"s":"左后门-y方向2阶","x":2.126,"y":0.003},{"s":"左后门-y方向2阶","x":2.214,"y":0.028},{"s":"左后门-y方向2阶","x":2.284,"y":0.13},{"s":"左后门-y方向2阶","x":2.337,"y":0.22},{"s":"左后门-y方向2阶","x":2.363,"y":0.235},{"s":"左后门-y方向2阶","x":2.398,"y":0.17},{"s":"左后门-y方向2阶","x":2.425,"y":0.12},{"s":"左后门-y方向2阶","x":2.495,"y":0.106},{"s":"左后门-y方向2阶","x":2.565,"y":0.12},{"s":"左后门-y方向2阶","x":2.653,"y":0.093},{"s":"左后门-y方向2阶","x":2.74,"y":0.054},{"s":"左后门-y方向2阶","x":2.81,"y":0.067},{"s":"左后门-y方向2阶","x":2.872,"y":0.075},{"s":"左后门-y方向2阶","x":2.933,"y":0.054},{"s":"左后门-y方向2阶","x":2.995,"y":0.023},{"s":"左后门-y方向2阶","x":3.09,"y":0.015},{"s":"左后门-y方向2阶","x":3.228,"y":0.018},
{"s":"顶棚前+z方向2阶","x":1.0,"y":0.585},{"s":"顶棚前+z方向2阶","x":1.03,"y":0.81},{"s":"顶棚前+z方向2阶","x":1.065,"y":1.06},{"s":"顶棚前+z方向2阶","x":1.091,"y":1.18},{"s":"顶棚前+z方向2阶","x":1.109,"y":1.19},{"s":"顶棚前+z方向2阶","x":1.135,"y":1.06},{"s":"顶棚前+z方向2阶","x":1.161,"y":0.73},{"s":"顶棚前+z方向2阶","x":1.188,"y":0.34},{"s":"顶棚前+z方向2阶","x":1.214,"y":0.17},{"s":"顶棚前+z方向2阶","x":1.24,"y":0.158},{"s":"顶棚前+z方向2阶","x":1.284,"y":0.29},{"s":"顶棚前+z方向2阶","x":1.328,"y":0.39},{"s":"顶棚前+z方向2阶","x":1.363,"y":0.35},{"s":"顶棚前+z方向2阶","x":1.407,"y":0.21},{"s":"顶棚前+z方向2阶","x":1.451,"y":0.12},{"s":"顶棚前+z方向2阶","x":1.512,"y":0.106},{"s":"顶棚前+z方向2阶","x":1.582,"y":0.114},{"s":"顶棚前+z方向2阶","x":1.653,"y":0.119},{"s":"顶棚前+z方向2阶","x":1.723,"y":0.18},{"s":"顶棚前+z方向2阶","x":1.784,"y":0.26},{"s":"顶棚前+z方向2阶","x":1.828,"y":0.2},{"s":"顶棚前+z方向2阶","x":1.872,"y":0.12},{"s":"顶棚前+z方向2阶","x":1.933,"y":0.093},{"s":"顶棚前+z方向2阶","x":2.004,"y":0.08},{"s":"顶棚前+z方向2阶","x":2.109,"y":0.06},{"s":"顶棚前+z方向2阶","x":2.214,"y":0.041},{"s":"顶棚前+z方向2阶","x":2.284,"y":0.054},{"s":"顶棚前+z方向2阶","x":2.337,"y":0.12},{"s":"顶棚前+z方向2阶","x":2.381,"y":0.22},{"s":"顶棚前+z方向2阶","x":2.407,"y":0.22},{"s":"顶棚前+z方向2阶","x":2.442,"y":0.158},{"s":"顶棚前+z方向2阶","x":2.495,"y":0.08},{"s":"顶棚前+z方向2阶","x":2.565,"y":0.054},{"s":"顶棚前+z方向2阶","x":2.635,"y":0.034},{"s":"顶棚前+z方向2阶","x":2.74,"y":0.023},{"s":"顶棚前+z方向2阶","x":2.88,"y":0.021},{"s":"顶棚前+z方向2阶","x":2.986,"y":0.023},{"s":"顶棚前+z方向2阶","x":3.09,"y":0.034},{"s":"顶棚前+z方向2阶","x":3.16,"y":0.041},{"s":"顶棚前+z方向2阶","x":3.228,"y":0.034}
]
},
"columns": 1,
"align": "none",
"spacing": 39,
"concat": [
{"spacing": 62, "resolve": {"scale": {"color": "independent"}, "legend": {"color": "independent"}}, "hconcat": [
{"width": 476, "height": 195, "data": {"name": "A"}, "mark": {"type": "line", "strokeWidth": 2.2, "interpolate": "monotone", "clip": true},
 "title": {"text": ["(a)  4档主减速器输入端扭振响应", "(a)  Torsional vibration of main reducer gear input end in fourth gear"], "lineHeight": 42, "offset": 22, "dx": -5, "fontSize": 22.3},
 "encoding": {
  "x": {"field": "x", "type": "quantitative", "scale": {"domain": [950, 2950], "nice": false, "zero": false}, "axis": {"values": [950, 1450, 1950, 2450, 2950], "labelExpr": "replace(format(datum.value, ','), ',', ' ')", "title": "转速 / (r • min⁻¹)", "titleX": 238, "titleY": 55}},
  "y": {"field": "y", "type": "quantitative", "scale": {"domain": [0, 4], "nice": false}, "axis": {"values": [0, 1, 2, 3, 4], "title": "角速度 / (rad • s⁻¹)", "titleX": -45, "titleY": 90, "titleFontSize": 21}},
  "color": {"field": "s", "type": "nominal", "scale": {"domain": ["总声压", "0.23阶", "1阶", "2阶", "3阶", "4阶", "6阶"], "range": ["#3a7fc0", "#d23c3c", "#9cb83e", "#7c5ca8", "#2bb0c8", "#f28c2e", "#9ec3e6"]}, "legend": {"title": null, "legendX": 205, "legendY": 5, "columns": 2, "direction": "horizontal", "clipHeight": 21.5}}
 }},
{"width": 474, "height": 190, "data": {"name": "B"}, "mark": {"type": "line", "strokeWidth": 2.2, "interpolate": "monotone", "clip": true},
 "title": {"text": ["(b)  4档驱动桥壳体振动响应", "(b)  Vibration of Drive axle housing in fourth gear"], "lineHeight": 44, "offset": 22},
 "encoding": {
  "x": {"field": "x", "type": "quantitative", "scale": {"domain": [1, 3.5], "nice": false, "zero": false}, "axis": {"values": [1, 1.5, 2, 2.5, 3, 3.5], "format": ".1f", "title": "转速 / (kr • min⁻¹)", "titleX": 244, "titleY": 59}},
  "y": {"field": "y", "type": "quantitative", "scale": {"domain": [0, 3], "nice": false}, "axis": {"values": [0, 0.5, 1, 1.5, 2, 2.5, 3], "labelExpr": "datum.value == 0 ? '0' : format(datum.value, '.1f')", "title": "振动幅值 / g", "titleX": -56, "titleY": 80}},
  "color": {"field": "s", "type": "nominal", "scale": {"domain": ["驱动桥上端-x方向2阶", "驱动桥下端-x方向2阶", "驱动桥前端-x方向2阶", "驱动桥前端-z方向2阶"], "range": ["#3f9fdc", "#e2434b", "#bccb45", "#8b6bb5"]}, "legend": {"title": null, "legendX": 198, "legendY": 11.5, "clipHeight": 28, "labelFontSize": 21}}
 }}
]},
{"spacing": 3, "resolve": {"scale": {"color": "independent"}, "legend": {"color": "independent"}}, "hconcat": [
{"width": 507, "height": 195, "data": {"name": "C"}, "mark": {"type": "line", "strokeWidth": 2.2, "interpolate": "monotone", "clip": true},
 "title": {"text": ["(c)  4档驱动桥车身连接点振动响应", "(c)  Vibration of connection points between drive axle and body in fourth gear"], "lineHeight": 39, "offset": 34, "dx": 8, "fontSize": 21.5},
 "encoding": {
  "x": {"field": "x", "type": "quantitative", "scale": {"domain": [1, 3.5], "nice": false, "zero": false, "range": [32, 507]}, "axis": {"values": [1, 1.5, 2, 2.5, 3, 3.5], "format": ".1f", "title": "转速 / (kr • min⁻¹)", "titleX": 270, "titleY": 54}},
  "y": {"field": "y", "type": "quantitative", "scale": {"domain": [0, 0.25], "nice": false}, "axis": {"offset": -32, "values": [0, 0.05, 0.1, 0.15, 0.2, 0.25], "labelExpr": "datum.value == 0 ? '0' : format(datum.value, '.2f')", "title": "振动幅值 / g", "titleX": -72, "titleY": 90}},
  "color": {"field": "s", "type": "nominal", "scale": {"domain": ["后右下摆臂车身处+z方向2阶", "后右下摆臂车身处-y方向2阶", "后右弹簧车身处+z方向2阶", "后左下摆臂车身处+y方向2阶", "后左下摆臂车身处-z方向2阶"], "range": ["#2f7ab8", "#c6393b", "#f08a32", "#a5c4e2", "#e9a3a3"]}, "legend": {"title": null, "legendX": 165, "legendY": 7.5, "clipHeight": 23.7, "labelFontSize": 21}}
 }},
{"width": 475, "height": 195, "data": {"name": "D"}, "mark": {"type": "line", "strokeWidth": 2.2, "interpolate": "monotone", "clip": true},
 "title": {"text": ["(d)  4档车身板件振动响应", "(d)  Body vibration in fourth gear"], "lineHeight": 40, "offset": 35, "dx": 8, "fontSize": 21.5},
 "encoding": {
  "x": {"field": "x", "type": "quantitative", "scale": {"domain": [1, 3.5], "nice": false, "zero": false}, "axis": {"values": [1, 1.5, 2, 2.5, 3, 3.5], "format": ".1f", "title": "转速 / (kr • min⁻¹)", "titleX": 250, "titleY": 53}},
  "y": {"field": "y", "type": "quantitative", "scale": {"domain": [0, 1.5], "nice": false}, "axis": {"values": [0, 0.5, 1, 1.5], "labelExpr": "datum.value == 0 ? '0' : format(datum.value, '.1f')", "title": "振动幅值 / g", "titleX": -58, "titleY": 80}},
  "color": {"field": "s", "type": "nominal", "scale": {"domain": ["右后门+y方向2阶", "左后门-y方向2阶", "顶棚前+z方向2阶"], "range": ["#42a2da", "#e3444c", "#b4c444"]}, "legend": {"title": null, "legendX": 222, "legendY": 16.5, "clipHeight": 23}}
 }}
]}
],
"resolve": {"scale": {"color": "independent"}, "legend": {"color": "independent"}}
}
